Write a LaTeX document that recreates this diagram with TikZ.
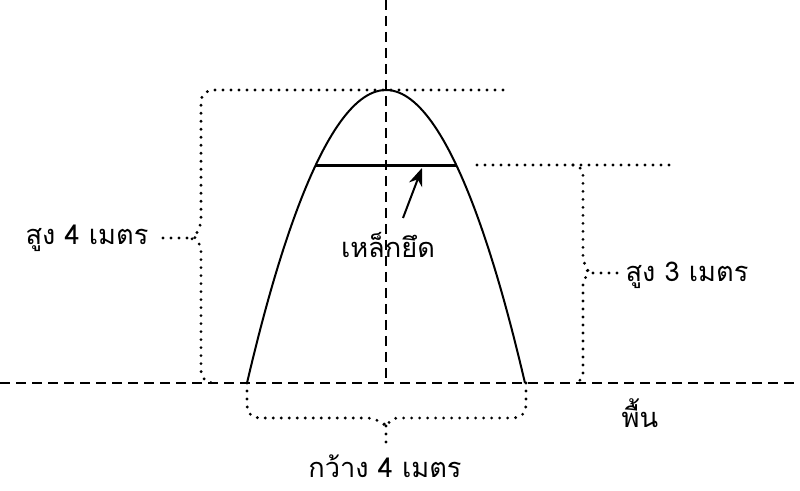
\documentclass[tikz,border=0pt]{standalone}
\usepackage{fontspec}
\newfontfamily\thaifont[Script=Thai]{Loma}
\usetikzlibrary{arrows.meta}

\begin{document}
\begin{tikzpicture}[x=0.5pt,y=-0.5pt,
        dashline/.style={line width=1pt, dash pattern=on 5pt off 3pt},
        dotline/.style={line width=1.6pt, line cap=round, dash pattern=on 0pt off 4pt},
        lbl/.style={font=\thaifont\fontsize{13.6}{16}\selectfont, anchor=base, inner sep=0pt}]
        \useasboundingbox (0,0) rectangle (800,491);

        % Define points of the arch
        \coordinate (P1) at (247,383);   % Left foot
        \coordinate (P2) at (386,90);    % Top
        \coordinate (P3) at (525,383);   % Right foot

        % Define ends of the tie bar
        \coordinate (R1) at (315,166);
        \coordinate (R2) at (457,166);

        % Define ends of the arrow
        \coordinate (S1) at (403,218);
        \coordinate (S2) at (422,168);

        % Define tips and ends of the leaders
        \coordinate (T4) at (193,238);   % Left brace tip
        \coordinate (L4) at (163,238);
        \coordinate (T3) at (590,273);   % Right brace tip
        \coordinate (L3) at (617,273);
        \coordinate (TW) at (386,426);   % Bottom brace tip
        \coordinate (LW) at (386,445);

        % Draw ground and axis
        \draw[dashline] (0,383) -- (800,383);
        \draw[dashline] (386,0) -- (386,383);

        % Draw the arch and the tie bar
        \draw[line width=1pt] (P1) parabola bend (P2) (P3);
        \draw[line width=1.5pt] (R1) -- (R2);
        \draw[line width=1pt, -{Stealth[length=9pt,width=7pt]}] (S1) -- (S2);

        % Draw dotted guide lines and braces
        \draw[dotline, rounded corners=6pt] (503,90) -- (201,90) -- (201,231)
            [rounded corners=2pt] -- (T4) -- (201,245) [rounded corners=6pt] -- (201,383) -- (212,383);
        \draw[dotline] (477,165) -- (670,165);
        \draw[dotline, rounded corners=5pt] (573,165) -- (583,165) -- (583,266)
            [rounded corners=2pt] -- (T3) -- (583,280) [rounded corners=5pt] -- (583,383) -- (573,383);
        \draw[dotline, rounded corners=6pt] (P1) -- (247,418) -- (379,418)
            [rounded corners=2pt] -- (TW) -- (393,418) [rounded corners=6pt] -- (526,418) -- (526,383);

        % Draw leaders
        \draw[dotline] (L4) -- (T4);
        \draw[dotline] (L3) -- (T3);
        \draw[dotline] (TW) -- (LW);

        % Labels
        \node[lbl] (rod) at (388,258) {เหล็กยึด};
        \node[lbl] (h4) at (87,245) {สูง 4 เมตร};
        \node[lbl] (h3) at (687,282) {สูง 3 เมตร};
        \node[lbl] (w4) at (385,478) {กว้าง 4 เมตร};
        \node[lbl] (gnd) at (640,428) {พื้น};

    \end{tikzpicture}
\end{document}
